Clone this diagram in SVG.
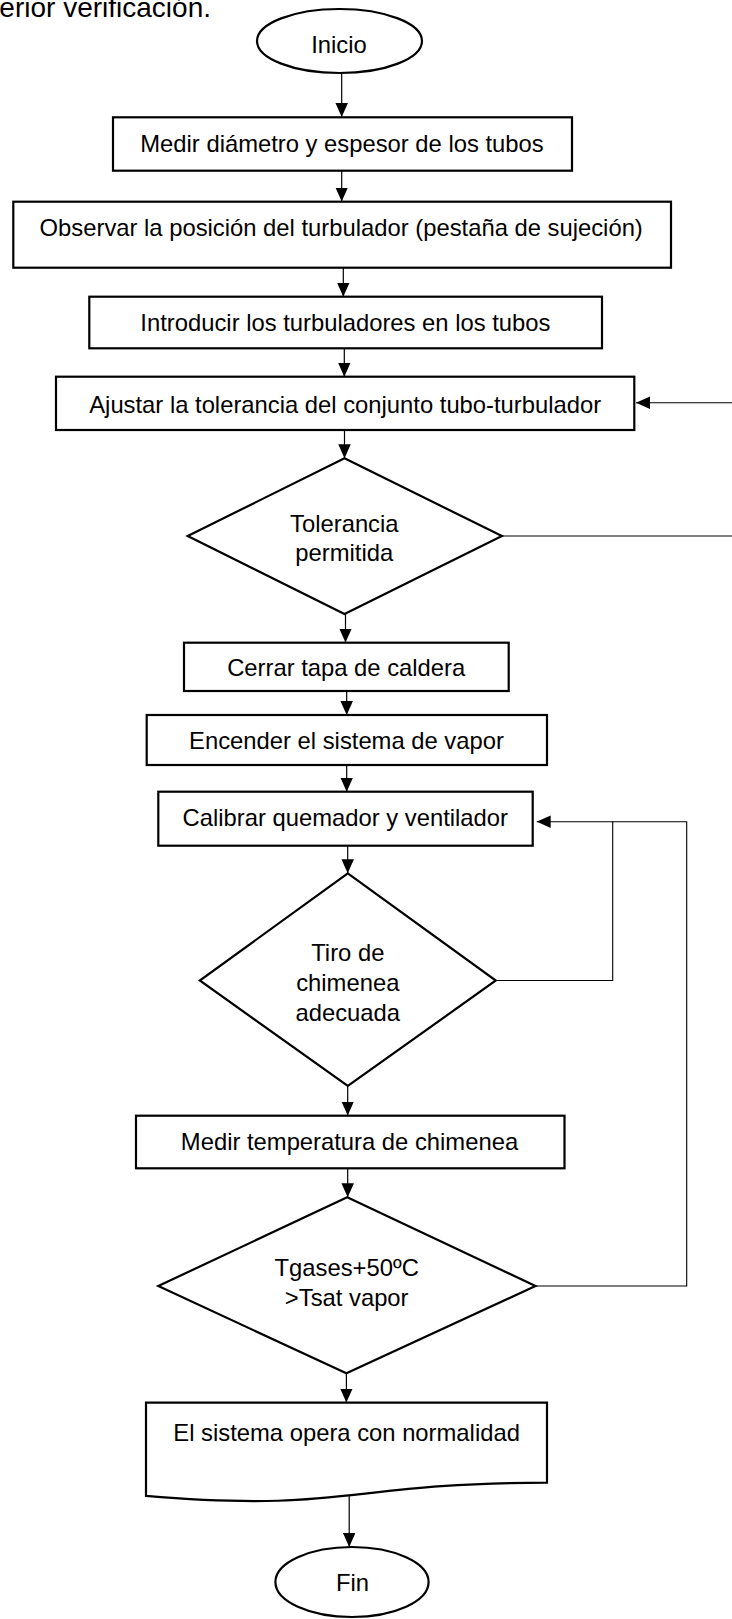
<svg xmlns="http://www.w3.org/2000/svg" width="732" height="1619" viewBox="0 0 732 1619">
  <style>
    text { font-family: "Liberation Sans", Arial, Helvetica, sans-serif; font-size: 23.8px; fill: #000; text-anchor: middle; }
    .shape { fill: #fff; stroke: #000; stroke-width: 2.2; }
    .conn { fill: none; stroke: #000; stroke-width: 1.2; }
    .loop { fill: none; stroke: #000; stroke-width: 1.1; }
  </style>
  <defs>
    <marker id="arrow" markerUnits="userSpaceOnUse" markerWidth="14" markerHeight="13" refX="14" refY="6.25" orient="auto">
      <path d="M0,0 L14,6.25 L0,12.5 z" fill="#000"/>
    </marker>
  </defs>
  <rect width="732" height="1619" fill="#fff"/>

  <!-- trailing line of the preceding paragraph -->
  <text x="211" y="17" style="font-size:28px; text-anchor:end">erior verificación.</text>

  <!-- connectors -->
  <g id="connectors">
    <line class="conn" x1="341.7" y1="73" x2="341.7" y2="117" marker-end="url(#arrow)"/>
    <line class="conn" x1="341.7" y1="171" x2="341.7" y2="201.5" marker-end="url(#arrow)"/>
    <line class="conn" x1="343.3" y1="268" x2="343.3" y2="296.7" marker-end="url(#arrow)"/>
    <line class="conn" x1="344.3" y1="348.5" x2="344.3" y2="376.7" marker-end="url(#arrow)"/>
    <line class="conn" x1="344.5" y1="430" x2="344.5" y2="458.3" marker-end="url(#arrow)"/>
    <line class="conn" x1="345.5" y1="614" x2="345.5" y2="642.5" marker-end="url(#arrow)"/>
    <line class="conn" x1="346.7" y1="691" x2="346.7" y2="715" marker-end="url(#arrow)"/>
    <line class="conn" x1="346.7" y1="765" x2="346.7" y2="791.7" marker-end="url(#arrow)"/>
    <line class="conn" x1="347.7" y1="845.7" x2="347.7" y2="873.3" marker-end="url(#arrow)"/>
    <line class="conn" x1="347.7" y1="1086" x2="347.7" y2="1115.5" marker-end="url(#arrow)"/>
    <line class="conn" x1="347.7" y1="1168.3" x2="347.7" y2="1197.3" marker-end="url(#arrow)"/>
    <line class="conn" x1="346.4" y1="1373.3" x2="346.4" y2="1402.5" marker-end="url(#arrow)"/>
    <line class="conn" x1="349.2" y1="1494" x2="349.2" y2="1547" marker-end="url(#arrow)"/>
    <!-- return loops -->
    <path class="loop" d="M501.9,536 H745 V402.7 H636" marker-end="url(#arrow)"/>
    <path class="loop" d="M495.8,980.5 H612.7 V821.7 H536.7" marker-end="url(#arrow)"/>
    <path class="loop" d="M535.5,1286 H686.7 V821.7 H612.7"/>
  </g>

  <g id="inicio">
    <ellipse class="shape" cx="339.5" cy="41" rx="82.5" ry="32"/>
    <text x="339" y="53.3">Inicio</text>
  </g>

  <g id="medir-diametro">
    <rect class="shape" x="113" y="117.3" width="459" height="53.4"/>
    <text x="342" y="152">Medir diámetro y espesor de los tubos</text>
  </g>

  <g id="observar">
    <rect class="shape" x="13.3" y="201.7" width="657.7" height="66"/>
    <text x="341.2" y="236">Observar la posición del turbulador (pestaña de sujeción)</text>
  </g>

  <g id="introducir">
    <rect class="shape" x="89.3" y="296.7" width="512.7" height="51.6"/>
    <text x="345.4" y="331">Introducir los turbuladores en los tubos</text>
  </g>

  <g id="ajustar">
    <rect class="shape" x="56" y="376.7" width="578.3" height="53.3"/>
    <text x="345.2" y="412.5">Ajustar la tolerancia del conjunto tubo-turbulador</text>
  </g>

  <g id="tolerancia">
    <polygon class="shape" points="344.5,458.3 501.9,536 344.5,614 187.7,536"/>
    <text x="344.3" y="531.5">Tolerancia</text>
    <text x="344.3" y="561">permitida</text>
  </g>

  <g id="cerrar">
    <rect class="shape" x="184" y="642.7" width="324.7" height="48.3"/>
    <text x="346.2" y="676">Cerrar tapa de caldera</text>
  </g>

  <g id="encender">
    <rect class="shape" x="146.7" y="715" width="400.3" height="50"/>
    <text x="346.5" y="749">Encender el sistema de vapor</text>
  </g>

  <g id="calibrar">
    <rect class="shape" x="158.3" y="791.7" width="374.4" height="54"/>
    <text x="345.3" y="826">Calibrar quemador y ventilador</text>
  </g>

  <g id="tiro">
    <polygon class="shape" points="347.8,873.3 495.8,980.5 347.8,1086 199.8,980.5"/>
    <text x="347.8" y="961">Tiro de</text>
    <text x="347.8" y="991">chimenea</text>
    <text x="347.8" y="1021">adecuada</text>
  </g>

  <g id="medir-temperatura">
    <rect class="shape" x="136" y="1115.7" width="428.5" height="52.6"/>
    <text x="349.5" y="1150">Medir temperatura de chimenea</text>
  </g>

  <g id="tgases">
    <polygon class="shape" points="347.2,1197.3 535.5,1286 346.4,1373.3 158.3,1286"/>
    <text x="346.7" y="1276">Tgases+50ºC</text>
    <text x="346.7" y="1305.5">&gt;Tsat vapor</text>
  </g>

  <g id="opera">
    <path class="shape" d="M146,1402.7 L547,1402.7 L547,1482.7 C346.5,1482.7 346.5,1512.9 146,1495.9 Z"/>
    <text x="346.6" y="1441">El sistema opera con normalidad</text>
  </g>

  <g id="fin">
    <ellipse class="shape" cx="352" cy="1582" rx="76.6" ry="35"/>
    <text x="352.5" y="1591">Fin</text>
  </g>
</svg>
